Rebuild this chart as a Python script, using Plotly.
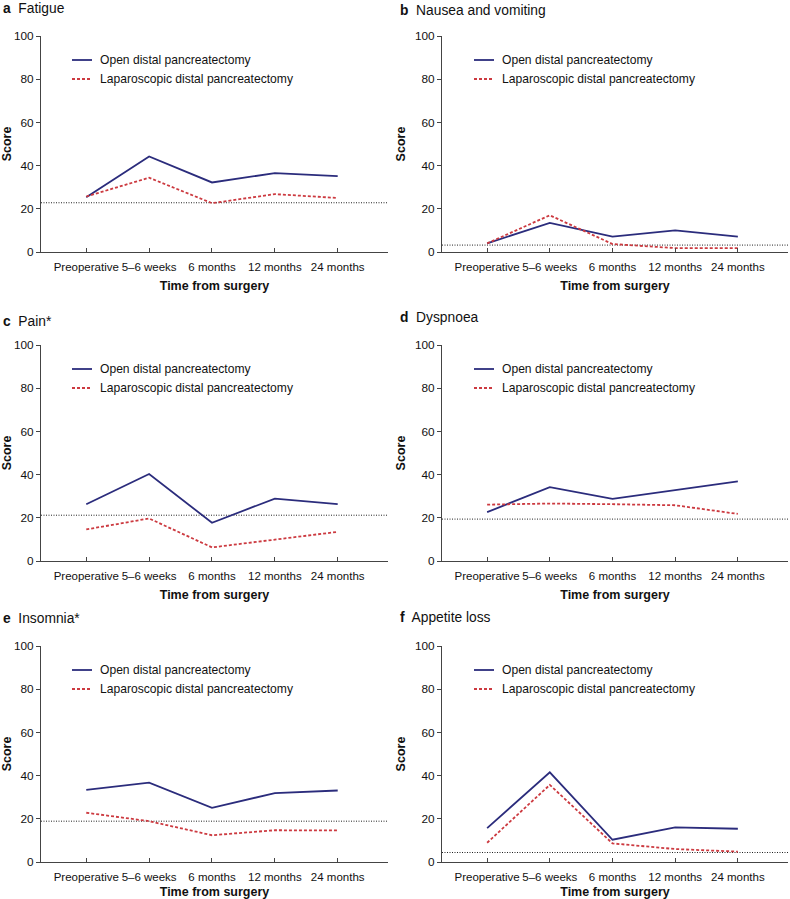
import plotly.graph_objects as go

time_points = ["Preoperative", "5\u20136 weeks", "6 months", "12 months", "24 months"]
panel_letters = ["a", "b", "c", "d", "e", "f"]
panel_titles = ["Fatigue", "Nausea and vomiting", "Pain*", "Dyspnoea", "Insomnia*", "Appetite loss"]

open_fatigue = [25.3, 44.2, 32.2, 36.5, 35.1]
lap_fatigue = [25.7, 34.4, 22.6, 26.8, 25.0]
ref_fatigue = 22.8

open_nausea = [4.0, 13.5, 7.1, 10.0, 7.1]
lap_nausea = [4.0, 17.0, 3.7, 1.8, 1.8]
ref_nausea = 3.2

open_pain = [26.3, 40.3, 17.7, 28.9, 26.3]
lap_pain = [14.6, 19.7, 6.3, 10.0, 13.5]
ref_pain = 21.2

open_dyspnoea = [22.6, 34.2, 28.8, 32.8, 36.9]
lap_dyspnoea = [26.1, 26.6, 26.3, 25.8, 21.8]
ref_dyspnoea = 19.4

open_insomnia = [33.4, 36.7, 25.1, 31.9, 33.1]
lap_insomnia = [22.8, 18.9, 12.4, 14.7, 14.6]
ref_insomnia = 18.9

open_appetite = [15.7, 41.5, 10.3, 16.0, 15.4]
lap_appetite = [8.9, 35.7, 8.6, 6.0, 4.8]
ref_appetite = 4.4

open_series = [open_fatigue, open_nausea, open_pain, open_dyspnoea, open_insomnia, open_appetite]
lap_series = [lap_fatigue, lap_nausea, lap_pain, lap_dyspnoea, lap_insomnia, lap_appetite]
ref_values = [ref_fatigue, ref_nausea, ref_pain, ref_dyspnoea, ref_insomnia, ref_appetite]

W, H = 790, 899
FONT = "Liberation Sans, Arial, Helvetica, sans-serif"
OPEN_COLOR = "#2b2c7c"
LAP_COLOR = "#cc3a40"
AXIS_COLOR = "#444444"
TXT = "#111111"

# pixel geometry of each panel (left, right, top, bottom)
col_x = [(41, 388), (442, 788)]
row_y = [(36, 252), (345, 561), (646, 862)]
title_offsets = [27, 26, 24, 28, 28, 29]

fig = go.Figure()
xs = list(range(len(time_points)))

for i in range(6):
    r, c = divmod(i, 2)
    ax = i + 1
    xname = "x" if ax == 1 else f"x{ax}"
    yname = "y" if ax == 1 else f"y{ax}"
    x0, x1 = col_x[c]
    y0, y1 = row_y[r]
    xd = [x0 / W, x1 / W]
    yd = [1 - y1 / H, 1 - y0 / H]

    # reference dotted line
    fig.add_trace(go.Scatter(x=[-0.72, 4.8], y=[ref_values[i]] * 2, mode="lines",
                             line=dict(color="#222222", width=1, dash="1px,1.5px"),
                             showlegend=False, hoverinfo="skip", xaxis=xname, yaxis=yname))
    fig.add_trace(go.Scatter(x=xs, y=open_series[i], mode="lines",
                             line=dict(color=OPEN_COLOR, width=1.8),
                             showlegend=False, xaxis=xname, yaxis=yname))
    fig.add_trace(go.Scatter(x=xs, y=lap_series[i], mode="lines",
                             line=dict(color=LAP_COLOR, width=1.8, dash="3px,2px"),
                             showlegend=False, xaxis=xname, yaxis=yname))

    xa = dict(domain=xd, anchor=yname, range=[-0.72, 4.8], tickmode="array",
              tickvals=xs, ticktext=time_points, ticks="inside", ticklen=4,
              tickcolor=AXIS_COLOR, showline=True, linecolor=AXIS_COLOR, linewidth=1,
              showgrid=False, zeroline=False, ticklabelstandoff=4, tickangle=0,
              automargin=False,
              tickfont=dict(family=FONT, size=11.5, color=TXT),
              title=dict(text="<b>Time from surgery</b>", font=dict(family=FONT, size=12.5, color=TXT),
                         standoff=9))
    ya = dict(domain=yd, anchor=xname, range=[0, 100], tickvals=[0, 20, 40, 60, 80, 100],
              ticks="outside", ticklen=4, tickcolor=AXIS_COLOR, showline=True,
              linecolor=AXIS_COLOR, linewidth=1, showgrid=False, zeroline=False,
              automargin=False,
              tickfont=dict(family=FONT, size=11.8, color=TXT),
              title=dict(text="<b>Score</b>", font=dict(family=FONT, size=12.5, color=TXT),
                         standoff=6))
    fig.layout["xaxis" if ax == 1 else f"xaxis{ax}"] = xa
    fig.layout["yaxis" if ax == 1 else f"yaxis{ax}"] = ya

    # panel title
    fig.add_annotation(x=(1 if c == 0 else 398) / W, y=1 - (y0 - title_offsets[i]) / H,
                       xref="paper", yref="paper",
                       xanchor="left", yanchor="middle", showarrow=False,
                       text=f"<b>{panel_letters[i]}</b>  {panel_titles[i]}",
                       font=dict(family=FONT, size=13.8, color=TXT))

    # legend (drawn per panel)
    lx0 = x0 + 31 if c == 0 else x0 + 32
    for k, (name, color, dash) in enumerate([("Open distal pancreatectomy", OPEN_COLOR, "solid"),
                                              ("Laparoscopic distal pancreatectomy", LAP_COLOR, "3px,2px")]):
        ly = y0 + 24 + k * 19
        fig.add_shape(type="line", xref="paper", yref="paper",
                      x0=lx0 / W, x1=(lx0 + 20) / W, y0=1 - ly / H, y1=1 - ly / H,
                      line=dict(color=color, width=1.8, dash=dash))
        fig.add_annotation(x=(lx0 + 26) / W, y=1 - ly / H, xref="paper", yref="paper",
                           xanchor="left", yanchor="middle", showarrow=False, text=name,
                           font=dict(family=FONT, size=12.1, color=TXT))

fig.update_layout(width=W, height=H, margin=dict(l=0, r=0, t=0, b=0),
                  paper_bgcolor="white", plot_bgcolor="white", showlegend=False,
                  font=dict(family=FONT))

fig.write_html("out.html", config={"displayModeBar": False},
               post_script="document.body.style.margin='0';document.body.style.overflow='hidden';")
